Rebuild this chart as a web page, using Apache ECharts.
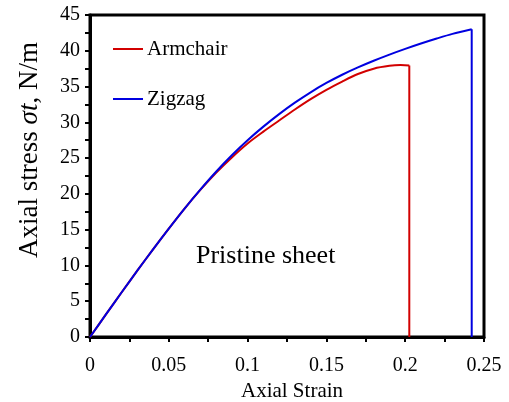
<!DOCTYPE html>
<html>
<head>
<meta charset="utf-8">
<script src="https://cdn.jsdelivr.net/npm/echarts@6/dist/echarts.min.js"></script>
<style>
  html, body { margin: 0; padding: 0; background: #fff; }
  #chart { width: 509px; height: 402px; }
</style>
</head>
<body>
<div id="chart"></div>
<script>
// Stress–strain response of a pristine sheet under uniaxial tension
const armchairStrain = [0, 0.01, 0.02, 0.03, 0.04, 0.05, 0.06, 0.07, 0.08, 0.09, 0.10, 0.11, 0.12, 0.13, 0.14, 0.15, 0.16, 0.17, 0.18, 0.19, 0.197, 0.2026];
const armchairStress = [0, 3.12, 6.22, 9.27, 12.25, 15.15, 17.95, 20.55, 22.95, 25.1, 27.05, 28.7, 30.25, 31.8, 33.25, 34.55, 35.7, 36.75, 37.5, 37.9, 38.0, 37.95];

const zigzagStrain = [0, 0.01, 0.02, 0.03, 0.04, 0.05, 0.06, 0.07, 0.08, 0.09, 0.10, 0.11, 0.12, 0.13, 0.14, 0.15, 0.16, 0.17, 0.18, 0.19, 0.20, 0.21, 0.22, 0.23, 0.2422];
const zigzagStress = [0, 3.12, 6.22, 9.27, 12.25, 15.15, 17.95, 20.6, 23.1, 25.4, 27.5, 29.4, 31.15, 32.75, 34.2, 35.5, 36.65, 37.67, 38.6, 39.46, 40.26, 41.01, 41.71, 42.36, 43.0];

const xTicks = [0, 0.05, 0.1, 0.15, 0.2, 0.25];
const yTicks = [0, 5, 10, 15, 20, 25, 30, 35, 40, 45];

const FONT = '"Liberation Serif", "Times New Roman", serif';
const RED = '#d20000';
const BLUE = '#0000e0';

function pairs(xs, ys) {
  return xs.map((x, i) => [x, ys[i]]);
}
// vertical drop to zero stress at the fracture strain
function fracture(xs, ys) {
  const n = xs.length - 1;
  return [[xs[n], ys[n]], [xs[n], 0]];
}

function curve(name, xs, ys, color, z) {
  return [
    {
      name, type: 'line', data: pairs(xs, ys),
      showSymbol: false, symbol: 'none', smooth: 0.3,
      lineStyle: { color, width: 2 }, itemStyle: { color }, z
    },
    {
      name, type: 'line', data: fracture(xs, ys),
      showSymbol: false, symbol: 'none',
      lineStyle: { color, width: 2 }, itemStyle: { color }, z
    }
  ];
}

const chart = echarts.init(document.getElementById('chart'), null, { renderer: 'canvas' });

chart.setOption({
  animation: false,
  backgroundColor: '#fff',
  grid: {
    left: 90, right: 25, top: 15, bottom: 65,
    outerBoundsMode: 'none', containLabel: false,
    show: true, borderColor: '#000', borderWidth: 3, backgroundColor: 'transparent'
  },
  legend: {
    orient: 'vertical',
    left: 113, top: 38, padding: 0,
    icon: 'path://M0,0 L30,0 L30,2 L0,2 Z',
    itemWidth: 30, itemHeight: 2, itemGap: 28,
    textStyle: { fontFamily: FONT, fontSize: 21, lineHeight: 22, color: '#000', padding: [0, 0, 0, -1] },
    data: [
      { name: 'Armchair', itemStyle: { color: RED } },
      { name: 'Zigzag', itemStyle: { color: BLUE } }
    ]
  },
  xAxis: {
    type: 'value',
    min: xTicks[0], max: xTicks[xTicks.length - 1], interval: 0.05,
    axisLine: { show: true, lineStyle: { color: '#000', width: 3 } },
    axisTick: { show: true, inside: false, length: 5, lineStyle: { color: '#000', width: 2 } },
    minorTick: { show: true, splitNumber: 2, length: 5, lineStyle: { color: '#000', width: 2 } },
    splitLine: { show: false },
    axisLabel: {
      fontFamily: FONT, fontSize: 20, color: '#000', margin: 19,
      formatter: v => String(parseFloat(v.toFixed(2)))
    },
    name: 'Axial Strain',
    nameLocation: 'middle', nameGap: 44,
    nameTextStyle: { fontFamily: FONT, fontSize: 21, color: '#000', padding: [0, 0, 0, 10] }
  },
  yAxis: {
    type: 'value',
    min: yTicks[0], max: yTicks[yTicks.length - 1], interval: 5,
    axisLine: { show: true, lineStyle: { color: '#000', width: 3 } },
    axisTick: { show: true, inside: false, length: 5, lineStyle: { color: '#000', width: 2 } },
    minorTick: { show: true, splitNumber: 2, length: 5, lineStyle: { color: '#000', width: 2 } },
    splitLine: { show: false },
    axisLabel: { fontFamily: FONT, fontSize: 20, color: '#000', margin: 10 }
  },
  graphic: [
    {
      type: 'text',
      x: 30, y: 150,
      rotation: Math.PI / 2,
      style: {
        text: '{n|Axial stress }{i|σt}{n|, N/m}',
        align: 'center', verticalAlign: 'middle',
        rich: {
          n: { fontFamily: FONT, fontSize: 27, fill: '#000' },
          i: { fontFamily: FONT, fontSize: 27, fontStyle: 'italic', fill: '#000' }
        }
      }
    },
    {
      type: 'text',
      left: 196, top: 243,
      style: { text: 'Pristine sheet', fontFamily: FONT, fontSize: 26, fill: '#000' }
    }
  ],
  series: [
    ...curve('Armchair', armchairStrain, armchairStress, RED, 3),
    ...curve('Zigzag', zigzagStrain, zigzagStress, BLUE, 4)
  ]
});
</script>
</body>
</html>
